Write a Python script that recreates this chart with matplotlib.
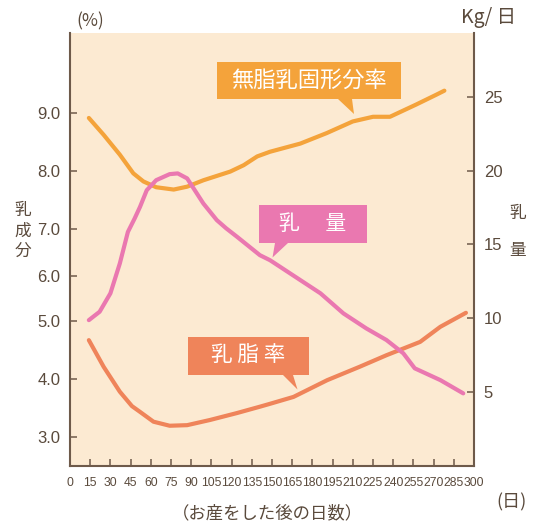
import numpy as np
import matplotlib
matplotlib.use("Agg")
import matplotlib.pyplot as plt
from matplotlib.patches import Polygon
from matplotlib import font_manager

# ---------------- data ----------------
days_snf = [14, 25, 37, 47, 54.5, 64, 77, 87, 99, 119, 129, 139, 148.5, 171, 190.6, 210, 225, 237.6, 257, 272, 278]
snf_pct = [8.91, 8.62, 8.28, 7.96, 7.82, 7.72, 7.68, 7.73, 7.84, 7.99, 8.10, 8.25, 8.33, 8.47, 8.65, 8.85, 8.93, 8.93, 9.14, 9.31, 9.38]

days_yield = [14, 22, 30, 37, 43, 48, 52, 57, 64, 74, 80, 87, 99, 109, 116, 124, 141, 148.5, 186, 203, 220, 235, 247.5, 256, 275, 292]
yield_kg = [9.86, 10.43, 11.68, 13.71, 15.85, 16.76, 17.55, 18.68, 19.36, 19.77, 19.82, 19.48, 17.78, 16.65, 16.09, 15.52, 14.27, 13.93, 11.68, 10.32, 9.30, 8.51, 7.61, 6.59, 5.79, 4.89]

days_fat = [14, 25, 37, 46, 52, 62, 74, 87, 104, 124, 141, 148.5, 166, 191, 215, 235, 260, 275, 294]
fat_pct = [4.67, 4.21, 3.78, 3.53, 3.43, 3.26, 3.19, 3.20, 3.29, 3.41, 3.52, 3.57, 3.69, 3.98, 4.21, 4.41, 4.64, 4.90, 5.18]

x_ticks = list(range(0, 301, 15))
left_ticks = [3.0, 4.0, 5.0, 6.0, 7.0, 8.0, 9.0]
right_ticks = [5, 10, 15, 20, 25]

label_snf = "無脂乳固形分率"
label_yield = "乳　 量"
label_fat = "乳 脂 率"

# ---------------- style ----------------
W, H = 535, 525
TXT = "#5A4A3C"
SPINE = "#6E5A4A"
BG = "#FCEAD2"
C_SNF = "#F4A33B"
C_YIELD = "#EA78B0"
C_FAT = "#EF845A"

names = {f.name for f in font_manager.fontManager.ttflist}
NUMFONT = "Liberation Sans" if "Liberation Sans" in names else "DejaVu Sans"
num_kw = {"fontfamily": NUMFONT}

CJK = ["Noto Sans CJK JP", "DejaVu Sans"]
plt.rcParams["font.family"] = CJK

fig = plt.figure(figsize=(W / 100, H / 100), dpi=100)
ax = fig.add_axes([70 / W, 1 - 466 / H, 404 / W, 433 / H])

# non-uniform left scale (breakpoints of the printed axis, in px above bottom)
sc_p = [-10, 3, 4, 5, 6, 7, 8, 9, 20]
sc_h = [29.3 - 13 * 57.7, 29.3, 87.0, 145.0, 190.5, 237.0, 295.0, 353.3, 353.3 + 11 * 58]
fwd = lambda v: np.interp(v, sc_p, sc_h)
inv = lambda h: np.interp(h, sc_h, sc_p)
ax.set_yscale("function", functions=(fwd, inv))
ax.set_ylim(float(inv(0)), float(inv(433)))
ax.set_xlim(0, 300)
ax.set_facecolor(BG)

ax2 = ax.twinx()
ax2.set_ylim(-0.04, 29.35)
ax2.patch.set_visible(False)

lw = 3.0
ax.plot(days_snf, snf_pct, color=C_SNF, lw=lw, solid_capstyle="round", solid_joinstyle="round", zorder=3)
ax.plot(days_fat, fat_pct, color=C_FAT, lw=lw, solid_capstyle="round", solid_joinstyle="round", zorder=3)
ax2.plot(days_yield, yield_kg, color=C_YIELD, lw=lw, solid_capstyle="round", solid_joinstyle="round", zorder=3)

for a in (ax, ax2):
    a.spines["top"].set_visible(False)
    for s in ("left", "right", "bottom"):
        a.spines[s].set_color(SPINE)
        a.spines[s].set_linewidth(1.5)
ax.spines["right"].set_visible(False)
ax2.spines["left"].set_visible(False)
ax2.spines["bottom"].set_visible(False)

ax.set_xticks(x_ticks)
ax.set_xticklabels([str(t) for t in x_ticks], fontsize=8.7, color=TXT, **num_kw)
ax.set_yticks(left_ticks)
ax.set_yticklabels([f"{t:.1f}" for t in left_ticks], fontsize=12, color=TXT, **num_kw)
ax.yaxis.set_minor_locator(matplotlib.ticker.NullLocator())
ax2.set_yticks(right_ticks)
ax2.set_yticklabels([str(t) for t in right_ticks], fontsize=12, color=TXT, **num_kw)

ax.tick_params(axis="x", direction="in", length=5, width=1.1, color=SPINE, pad=8)
ax.tick_params(axis="y", direction="in", length=5, width=1.1, color=SPINE, pad=7)
ax2.tick_params(axis="y", direction="in", length=5, width=1.1, color=SPINE, pad=7)


def fx(x):
    return x / W


def fy(y):
    return 1 - y / H


def callout(x0, y0, x1, y1, tl, tr, tip, color, text, tx, ty, fs):
    pts = [(x0, y0), (x1, y0), (x1, y1), (tr, y1), tip, (tl, y1), (x0, y1)]
    poly = Polygon([(fx(a), fy(b)) for a, b in pts], closed=True, transform=fig.transFigure,
                   facecolor=color, edgecolor="none", zorder=5)
    fig.patches.append(poly)
    fig.text(fx(tx), fy(ty), text, color="white", fontsize=fs, ha="center", va="center", zorder=6)


callout(217, 62, 401, 99, 338, 352, (354, 114), C_SNF, label_snf, 309, 80.5, 16)
callout(259, 205, 367, 243, 275, 288, (272.5, 257.5), C_YIELD, label_yield, 312.5, 224, 15)
callout(188, 337, 309, 375, 283, 293, (297.5, 389.5), C_FAT, label_fat, 248.5, 356, 15.5)

fig.text(fx(90), fy(21), "(%)", color=TXT, fontsize=12.5, ha="center", va="center")
fig.text(fx(489), fy(18), "Kg/ 日", color=TXT, fontsize=14, ha="center", va="center")
fig.text(fx(23), fy(231), "乳\n成\n分", color=TXT, fontsize=12, ha="center", va="center", linespacing=1.25)
fig.text(fx(518), fy(232), "乳\n量", color=TXT, fontsize=12, ha="center", va="center", linespacing=2.6)
fig.text(fx(267.5), fy(513), "（お産をした後の日数）", color=TXT, fontsize=12.5, ha="center", va="center")
fig.text(fx(511), fy(502), "(日)", color=TXT, fontsize=13, ha="center", va="center")

fig.savefig("out.png", dpi=100)
